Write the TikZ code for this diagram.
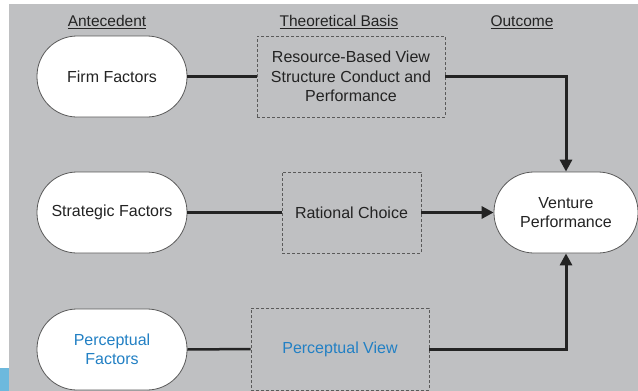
\documentclass[tikz,border=0pt]{standalone}
\usepackage{fontspec}
\setmainfont{Liberation Sans}
\usetikzlibrary{arrows.meta}
\definecolor{panel}{HTML}{BFC0C2}
\definecolor{ink}{HTML}{232323}
\definecolor{rim}{HTML}{5A5A5A}
\definecolor{percblue}{HTML}{2280C4}
\definecolor{tab}{HTML}{6DB9DD}
\tikzset{
  stadium/.style={draw=rim, line width=0.8pt, fill=white, rounded corners=40pt,
    minimum width=150pt, minimum height=81pt, align=center, text=ink,
    font=\fontsize{16}{19.5}\selectfont, inner sep=0pt},
  basis/.style={draw=rim, line width=0.9pt, dash pattern=on 3pt off 2pt,
    minimum height=81pt, align=center, text=ink,
    font=\fontsize{16}{19.5}\selectfont, inner sep=0pt},
  heading/.style={text=ink, font=\fontsize{15.5}{17}\selectfont},
  conn/.style={draw=ink, line width=3pt},
  arrowconn/.style={conn, -{Triangle[length=12pt,width=12pt]}},
}
\begin{document}
\begin{tikzpicture}[x=1pt, y=-1pt]
  \useasboundingbox (0,0) rectangle (638,391);
  \fill[panel] (9,4) rectangle (638,391);
  \fill[tab] (0,368) rectangle (9,391);

  % column headings
  \node[heading] (h1) at (107,22) {\underline{Antecedent}};
  \node[heading] (h2) at (339,22) {\underline{Theoretical Basis}};
  \node[heading] (h3) at (522,22) {\underline{Outcome}};

  % antecedents
  \node[stadium] (firm)  at (112,76.5)  {Firm Factors};
  \node[stadium] (strat) at (112,212.5) {Strategic Factors};
  \node[stadium, text=percblue] (perc) at (112,349.5) {Perceptual\\Factors};

  % theoretical bases
  \node[basis, minimum width=188pt] (rbv) at (351,76.5)
    {Resource-Based View\\Structure Conduct and\\Performance};
  \node[basis, minimum width=139pt] (rc) at (351.5,212.5) {Rational Choice};
  \node[basis, minimum width=178pt, minimum height=82pt, text=percblue] (pv)
    at (340,349) {Perceptual View};

  % outcome
  \node[stadium, minimum width=144pt] (venture) at (566,212.5)
    {Venture\\Performance};

  % connectors
  \draw[conn] (firm.east) -- (rbv.west);
  \draw[arrowconn] (rbv.east) -| (venture.north);
  \draw[conn] (strat.east) -- (rc.west);
  \draw[arrowconn] (rc.east) -- (venture.west);
  \draw[conn, line width=2.5pt] (perc.east) -- (pv.west);
  \draw[arrowconn] (pv.east) -| (venture.south);
\end{tikzpicture}
\end{document}
